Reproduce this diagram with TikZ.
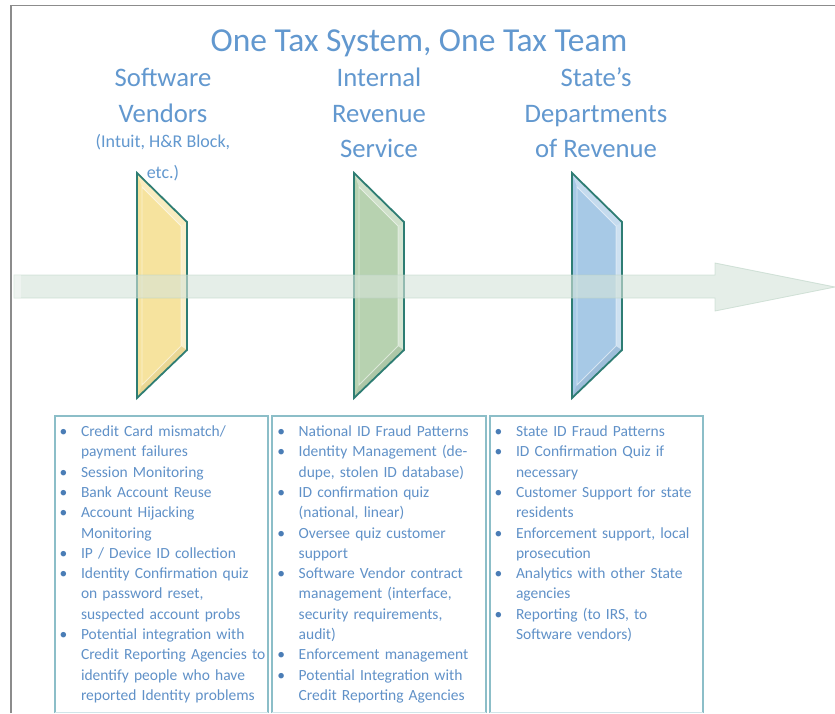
\documentclass[tikz,border=0pt]{standalone}
\usepackage{fontspec}
\setmainfont{Carlito}
\definecolor{ttl}{RGB}{98,152,207}
\definecolor{txt}{RGB}{96,145,200}
\definecolor{bulc}{RGB}{74,125,182}
\definecolor{framec}{RGB}{140,140,140}
\definecolor{boxc}{RGB}{140,190,200}
\definecolor{edgec}{RGB}{46,125,115}
\definecolor{arrowc}{RGB}{213,228,217}
\definecolor{arrowe}{RGB}{185,210,195}
\definecolor{ylw}{RGB}{246,227,158}
\definecolor{grn}{RGB}{183,210,176}
\definecolor{blu}{RGB}{167,201,230}
\newcommand\myb{\makebox[21.3pt][l]{\color{bulc}\textbullet}}
\newcommand\myc{\hspace*{21.3pt}}
\newcommand\mypanel[2]{%
  \fill[#2] (#1,173) -- (#1+50,222) -- (#1+50,350) -- (#1,398) -- cycle;
  \fill[white,opacity=0.45] (#1+44,226) -- (#1+50,222) -- (#1+50,350) -- (#1+44,346) -- cycle;
  \fill[white,opacity=0.35] (#1,173) -- (#1+50,222) -- (#1+44,226) -- (#1+5,187) -- cycle;
  \fill[black,opacity=0.05] (#1,398) -- (#1+50,350) -- (#1+44,346) -- (#1+5,385) -- cycle;
  \draw[white,opacity=0.55,line width=0.8pt] (#1+5,187) -- (#1+44,226) -- (#1+44,346) -- (#1+5,385) -- cycle;
  \draw[edgec,line width=1.8pt,line join=miter] (#1,173) -- (#1+50,222) -- (#1+50,350) -- (#1,398) -- cycle;
}
\tikzset{
  heading/.style={font=\fontsize{26.7}{32}\selectfont, text=ttl, inner sep=0pt, anchor=base},
  subhead/.style={font=\fontsize{18}{22}\selectfont, text=ttl, inner sep=0pt, anchor=base},
  listtext/.style={font=\fontsize{15.5}{20.3}\selectfont, text=txt, inner sep=0pt, anchor=base west, text width=210pt, align=left},
  listbox/.style={draw=boxc, line width=1.2pt},
}
\begin{document}
\begin{tikzpicture}[x=1pt,y=-1pt]
\useasboundingbox (0,0) rectangle (835,713);
\fill[white] (0,0) rectangle (835,713);
% frame
\draw[framec,line width=1.5pt] (11,713) -- (11,5.5) -- (835,5.5);
% title
\node[font=\fontsize{33.5}{40}\selectfont, text=ttl, inner sep=0pt, anchor=base] (title) at (419,51) {One Tax System, One Tax Team};
% headings
\node[heading] (sv1) at (163,86) {Software};
\node[heading] (sv2) at (163,122) {Vendors};
\node[subhead] (sv3) at (163,147) {(Intuit, H\&R Block,};
\node[subhead] (sv4) at (163,178) {etc.)};
\node[heading] (irs1) at (379,86) {Internal};
\node[heading] (irs2) at (379,122) {Revenue};
\node[heading] (irs3) at (379,157) {Service};
\node[heading] (st1) at (596,86) {State’s};
\node[heading] (st2) at (596,122) {Departments};
\node[heading] (st3) at (596,157) {of Revenue};
% panels
\mypanel{137}{ylw}
\mypanel{354}{grn}
\mypanel{572}{blu}
% arrow
\fill[arrowc,opacity=0.6] (14,275) -- (715,275) -- (715,263) -- (835,287) -- (715,311) -- (715,298) -- (14,298) -- cycle;
\draw[arrowe,opacity=0.6,line width=0.8pt] (14,275) -- (715,275) -- (715,263) -- (835,287) -- (715,311) -- (715,298) -- (14,298) -- cycle;
\fill[white,opacity=0.35] (14,275) rectangle (21,298);
% boxes
\draw[listbox] (55,713) -- (55,416) -- (268,416) -- (268,713);
\draw[listbox] (272,713) -- (272,416) -- (486,416) -- (486,713);
\draw[listbox] (490,713) -- (490,416) -- (703,416) -- (703,713);
\draw[boxc!40,line width=1pt] (55,712) -- (268,712) (272,712) -- (486,712) (490,712) -- (703,712);
\node[listtext] (list1) at (59.5,436.5) {%
\myb Credit Card mismatch/\\
\myc payment failures\\
\myb Session Monitoring\\
\myb Bank Account Reuse\\
\myb Account Hijacking\\
\myc Monitoring\\
\myb IP / Device ID collection\\
\myb Identity Confirmation quiz\\
\myc on password reset,\\
\myc suspected account probs\\
\myb Potential integration with\\
\myc Credit Reporting Agencies to\\
\myc identify people who have\\
\myc reported Identity problems};
\node[listtext] (list2) at (277.2,436.5) {%
\myb National ID Fraud Patterns\\
\myb Identity Management (de-\\
\myc dupe, stolen ID database)\\
\myb ID confirmation quiz\\
\myc (national, linear)\\
\myb Oversee quiz customer\\
\myc support\\
\myb Software Vendor contract\\
\myc management (interface,\\
\myc security requirements,\\
\myc audit)\\
\myb Enforcement management\\
\myb Potential Integration with\\
\myc Credit Reporting Agencies};
\node[listtext] (list3) at (494.5,436.5) {%
\myb State ID Fraud Patterns\\
\myb ID Confirmation Quiz if\\
\myc necessary\\
\myb Customer Support for state\\
\myc residents\\
\myb Enforcement support, local\\
\myc prosecution\\
\myb Analytics with other State\\
\myc agencies\\
\myb Reporting (to IRS, to\\
\myc Software vendors)};
\end{tikzpicture}
\end{document}
